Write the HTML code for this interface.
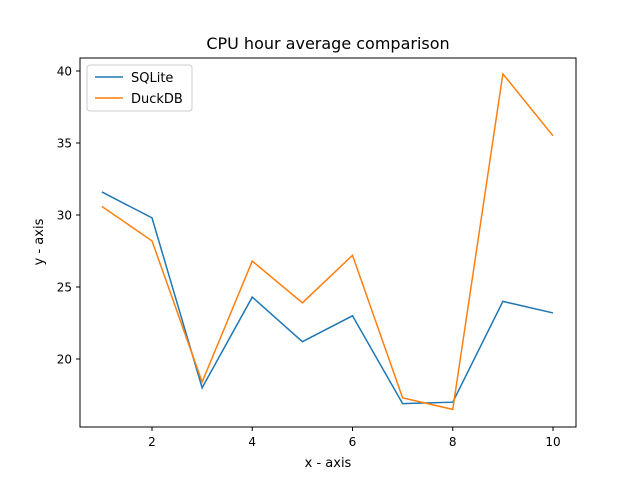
<!DOCTYPE html>
<html><head><meta charset="utf-8"><style>
body{margin:0;background:#fff;}
svg text{font-family:"DejaVu Sans","Liberation Sans",sans-serif;fill:#000;}
</style></head><body>
<svg id="chart" width="640" height="480" xmlns="http://www.w3.org/2000/svg">
<rect width="640" height="480" fill="#fff"/>
<text x="328" y="49" font-size="16" text-anchor="middle">CPU hour average comparison</text>
<g id="axes"></g>
<g id="lines"></g>
<rect x="80" y="58" width="496" height="369" fill="none" stroke="#000" stroke-width="1"/>
<text x="328" y="467" font-size="13" text-anchor="middle">x - axis</text>
<text transform="translate(43,242) rotate(-90)" font-size="13" text-anchor="middle">y - axis</text>
<g>
<rect x="87" y="65" width="105" height="46" rx="3" fill="#fff" stroke="#ccc"/>
<line x1="95" y1="77" x2="123" y2="77" stroke="#1f77b4" stroke-width="1.5"/>
<text x="131" y="82" font-size="13">SQLite</text>
<line x1="95" y1="98" x2="123" y2="98" stroke="#ff7f0e" stroke-width="1.5"/>
<text x="131" y="103" font-size="13">DuckDB</text>
</g>
</svg>
<script>
const xValues=[1,2,3,4,5,6,7,8,9,10];
const sqlite=[31.6,29.8,18.0,24.3,21.2,23.0,16.9,17.0,24.0,23.2];
const duckdb=[30.6,28.2,18.4,26.8,23.9,27.2,17.3,16.5,39.8,35.5];
const xTicks=[2,4,6,8,10];
const yTicks=[20,25,30,35,40];
const NS="http://www.w3.org/2000/svg";
function xs(v){return 152+(v-2)*50.125;}
function ys(v){return 359-(v-20)*14.4;}
const axes=document.getElementById('axes'), lines=document.getElementById('lines');
function mk(t,a,p){const e=document.createElementNS(NS,t);for(const k in a)e.setAttribute(k,a[k]);p.appendChild(e);return e;}
xTicks.forEach(t=>{
 const l=mk('line',{x1:xs(t),x2:xs(t),y1:427,y2:431,stroke:'#000'},axes);
 
 
 const tx=mk('text',{x:xs(t),y:446,'font-size':12,'text-anchor':'middle'},axes);tx.textContent=t;
 
 
});
yTicks.forEach(t=>{
 const l=mk('line',{x1:76,x2:80,y1:ys(t),y2:ys(t),stroke:'#000'},axes);
 
 
 const tx=mk('text',{x:72,y:ys(t)+4.5,'font-size':12,'text-anchor':'end'},axes);tx.textContent=t;
 
 
});
[[sqlite,'#1f77b4','sqlite-line'],[duckdb,'#ff7f0e','duckdb-line']].forEach(([d,c,n])=>{
 const p=mk('polyline',{points:d.map((v,i)=>xs(xValues[i])+','+ys(v)).join(' '),fill:'none',stroke:c,'stroke-width':1.5},lines);
 
 
});
</script>
</body></html>
